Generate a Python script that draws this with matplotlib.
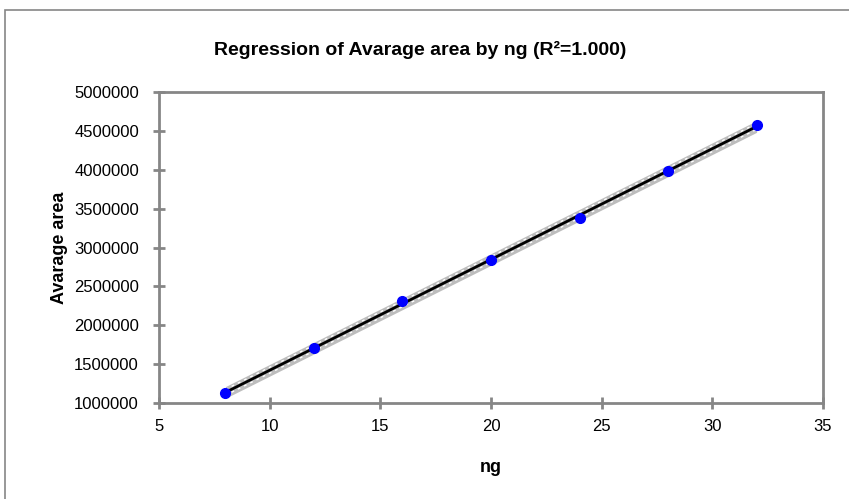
import numpy as np
import matplotlib.pyplot as plt
from matplotlib.patches import Rectangle

# --- datos ---
ng = [8, 12, 16, 20, 24, 28, 32]
avarage_area = [1132000, 1703000, 2312000, 2839000, 3375000, 3988000, 4575000]

x_ticks = [5, 10, 15, 20, 25, 30, 35]
y_ticks = [1000000, 1500000, 2000000, 2500000, 3000000, 3500000, 4000000, 4500000, 5000000]

plt.rcParams['font.family'] = ['Liberation Sans', 'DejaVu Sans']

axis_gray = '#868686'

# --- regresion ---
x = np.array(ng, dtype=float)
y = np.array(avarage_area, dtype=float)
slope, intercept = np.polyfit(x, y, 1)
x_fit = np.array([min(ng), max(ng)], dtype=float)
y_fit = slope * x_fit + intercept
band = 75000

fig = plt.figure(figsize=(8.49, 4.99), dpi=100)
ax = fig.add_axes([0.1873, 0.1924, 0.9694 - 0.1873, 0.8156 - 0.1924])

# marco exterior del grafico
fig.patches.append(Rectangle((5 / 849, -0.1), 1.2, 1 - 10 / 499 + 0.1,
                             transform=fig.transFigure, fill=False,
                             edgecolor=axis_gray, linewidth=1.2))

ax.fill_between(x_fit, y_fit - band, y_fit + band, color='#bdbdbd', linewidth=0, zorder=2)
ax.plot(x_fit, y_fit + band * 0.5, color='white', linestyle=(0, (2, 3)), linewidth=1, zorder=3)
ax.plot(x_fit, y_fit - band * 0.5, color='white', linestyle=(0, (2, 3)), linewidth=1, zorder=3)
ax.plot(x_fit, y_fit, color='black', linewidth=2, zorder=4)
ax.plot(ng, avarage_area, 'o', color='#0000ff', markersize=7, zorder=5)

ax.set_xlim(5, 35)
ax.set_ylim(1000000, 5000000)
ax.set_xticks(x_ticks)
ax.set_yticks(y_ticks)
ax.set_xticklabels([str(t) for t in x_ticks])
ax.set_yticklabels([str(t) for t in y_ticks])

for s in ax.spines.values():
    s.set_color(axis_gray)
    s.set_linewidth(2)
ax.tick_params(direction='inout', length=9, width=2, color=axis_gray,
               labelsize=12, labelcolor='black')
ax.tick_params(axis='y', pad=10)
ax.tick_params(axis='x', pad=7)

ax.set_xlabel('ng', fontsize=13, fontweight='bold', labelpad=18)
ax.set_ylabel('Avarage area', fontsize=13, fontweight='bold', labelpad=4)
fig.text(0.495, 1 - 50 / 499, 'Regression of Avarage area by ng (R²=1.000)',
         ha='center', va='center', fontsize=14, fontweight='bold')

fig.savefig('out.png', dpi=100)
